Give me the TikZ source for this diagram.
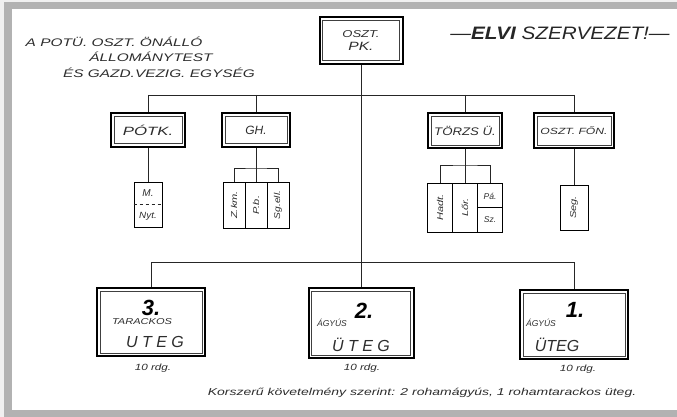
\documentclass[tikz,border=0pt]{standalone}
\usepackage{fontspec}
\setmainfont{Liberation Sans}
\usepackage{graphicx}
\definecolor{framegray}{RGB}{178,178,178}
\definecolor{ink}{RGB}{45,45,45}
\newcommand{\wide}[2]{\scalebox{#1}[1]{#2}}
\begin{document}
\begin{tikzpicture}[x=1pt,y=-1pt,
  txt/.style={font=\itshape, text=ink, inner sep=0pt},
  dbox/.style={draw=black, line width=2pt, fill=white, inner sep=0pt,
    path picture={\draw[line width=0.6pt,black!75]
      ([shift={(3.2pt,-3.2pt)}]path picture bounding box.north west) rectangle
      ([shift={(-3.2pt,3.2pt)}]path picture bounding box.south east);}},
  sbox/.style={draw=black, line width=0.9pt, inner sep=0pt},
  wire/.style={draw=black!85, line width=0.8pt},
  small/.style={txt, font=\itshape\fontsize{8.5}{8.5}\selectfont},
  foot/.style={txt, font=\itshape\fontsize{9}{9}\selectfont},
  big/.style={txt, font=\bfseries\itshape\fontsize{22}{22}\selectfont, text=black},
  uteg/.style={txt, font=\itshape\fontsize{16}{16}\selectfont},
]
\useasboundingbox (0,0) rectangle (677,417);
\fill[black!6] (0,0) rectangle (677,417);
\fill[white] (12,9) rectangle (677,410);
\fill[framegray] (4,2) rectangle (677,9);
\fill[framegray] (4,2) rectangle (12,417);
\fill[framegray] (4,410) rectangle (677,417);

% headings
\node[txt, font=\itshape\fontsize{11}{11}\selectfont] (h1t) at (114,42) {\wide{1.4}{A POTÜ. OSZT. ÖNÁLLÓ}};
\node[txt, font=\itshape\fontsize{11}{11}\selectfont] (h2t) at (151,57) {\wide{1.4}{ÁLLOMÁNYTEST}};
\node[txt, font=\itshape\fontsize{11}{11}\selectfont] (h3t) at (159,73) {\wide{1.4}{ÉS GAZD.VEZIG. EGYSÉG}};
\node[txt, font=\itshape\fontsize{18}{18}\selectfont, text=black!85] (title) at (560,33) {\wide{1.15}{—\textbf{ELVI} SZERVEZET!—}};

% top box
\node[dbox, txt, minimum width=83, minimum height=47, align=center] (pk) at (361,40.5)
  {\fontsize{10}{12}\selectfont\wide{1.3}{OSZT.}\\[1pt]\fontsize{12}{14}\selectfont\wide{1.3}{PK.}};

% second level
\node[dbox, txt, minimum width=74, minimum height=33] (potk) at (148,130) {\fontsize{12}{12}\selectfont\wide{1.4}{PÓTK.}};
\node[dbox, txt, minimum width=68, minimum height=33] (gh) at (256,130) {\fontsize{12}{12}\selectfont GH.};
\node[dbox, txt, minimum width=74, minimum height=35] (torzs) at (465,130.5) {\fontsize{11}{11}\selectfont\wide{1.2}{TÖRZS Ü.}};
\node[dbox, txt, minimum width=80, minimum height=35] (fon) at (574,130.5) {\fontsize{9}{9}\selectfont\wide{1.35}{OSZT. FŐN.}};

% batteries
\node[dbox, minimum width=108, minimum height=68] (b3) at (151,322) {};
\node[dbox, minimum width=105, minimum height=70] (b2) at (361,323) {};
\node[dbox, minimum width=108, minimum height=69] (b1) at (574,324.5) {};

% bus 1
\coordinate (a1) at (148,95);
\coordinate (a2) at (574,95);
\draw[wire] (a1) -- (a2);
\draw[wire] (a1) -- (potk.north);
\draw[wire] (gh.north |- a1) -- (gh.north);
\draw[wire] (torzs.north |- a1) -- (torzs.north);
\draw[wire] (a2) -- (fon.north);
\draw[wire] (pk.south) -- (b2.north);

% bus 2
\coordinate (c1) at (151,262);
\coordinate (c2) at (574,262);
\draw[wire] (c1) -- (c2);
\draw[wire] (c1) -- (b3.north);
\draw[wire] (c2) -- (b1.north);

% PÓTK sub
\node[sbox, minimum width=28, minimum height=45] (pm) at (148,204.5) {};
\draw[wire, dashed, line width=0.6pt] (pm.west) -- (pm.east);
\node[foot] (pmM) at (148,193) {\fontsize{10}{10}\selectfont M.};
\node[foot] (pmN) at (148,216) {\wide{1.1}{Nyt.}};
\draw[wire] (potk.south) -- (pm.north);

% GH sub
\node[sbox, minimum width=22, minimum height=46] (g1) at (234,205) {};
\node[sbox, minimum width=22, minimum height=46] (g2) at (256,205) {};
\node[sbox, minimum width=22, minimum height=46] (g3) at (278,205) {};
\node[small, rotate=90] (g1t) at (g1) {\wide{1.3}{Z.km.}};
\node[small, rotate=90] (g2t) at (g2) {\wide{1.3}{P.b.}};
\node[small, rotate=90] (g3t) at (g3) {\wide{1.2}{Sg.ell.}};
\coordinate (gb) at (256,168);
\draw[wire] (gh.south) -- (g2.north);
\draw[wire] (g1.north) |- (gb) -| (g3.north);

% TÖRZS sub
\node[sbox, minimum width=25, minimum height=49] (t1) at (440,207.5) {};
\node[sbox, minimum width=25, minimum height=49] (t2) at (465,207.5) {};
\node[sbox, minimum width=25, minimum height=49] (t3) at (490,207.5) {};
\draw[sbox] (t3.west) -- (t3.east);
\node[small, rotate=90] (t1t) at (t1) {\wide{1.3}{Hadt.}};
\node[small, rotate=90] (t2t) at (t2) {\wide{1.3}{Lőr.}};
\node[small] (t3a) at (490,196) {Pá.};
\node[small] (t3b) at (490,220) {Sz.};
\coordinate (tb) at (465,165);
\draw[wire] (torzs.south) -- (t2.north);
\draw[wire] (t1.north) |- (tb) -| (t3.north);

% FŐN sub
\node[sbox, minimum width=28, minimum height=45] (f1) at (574,207.5) {};
\node[small, rotate=90] (f1t) at (f1) {\wide{1.3}{Seg.}};
\draw[wire] (fon.south) -- (f1.north);

% battery 3
\node[big] (n3) at (151,308) {3.};
\node[small] (k3) at (142,322) {\wide{1.3}{TARACKOS}};
\node[uteg] (u3) at (155,342) {U T E G};
\node[foot] (r3) at (153,368) {\wide{1.3}{10 rdg.}};
% battery 2
\node[big] (n2) at (364,311) {2.};
\node[small] (k2) at (332,323) {ÁGYÚS};
\node[uteg] (u2) at (361,345) {Ü T E G};
\node[foot] (r2) at (362,368) {\wide{1.3}{10 rdg.}};
% battery 1
\node[big] (n1) at (575,310) {1.};
\node[small] (k1) at (541,323) {ÁGYÚS};
\node[uteg] (u1) at (557,345) {ÜTEG};
\node[foot] (r1) at (578,369) {\wide{1.3}{10 rdg.}};

% footer
\node[txt, font=\itshape\fontsize{10}{10}\selectfont] (foot) at (422,393) {\wide{1.4}{Korszerű követelmény szerint: 2 rohamágyús, 1 rohamtarackos üteg.}};
\end{tikzpicture}
\end{document}
